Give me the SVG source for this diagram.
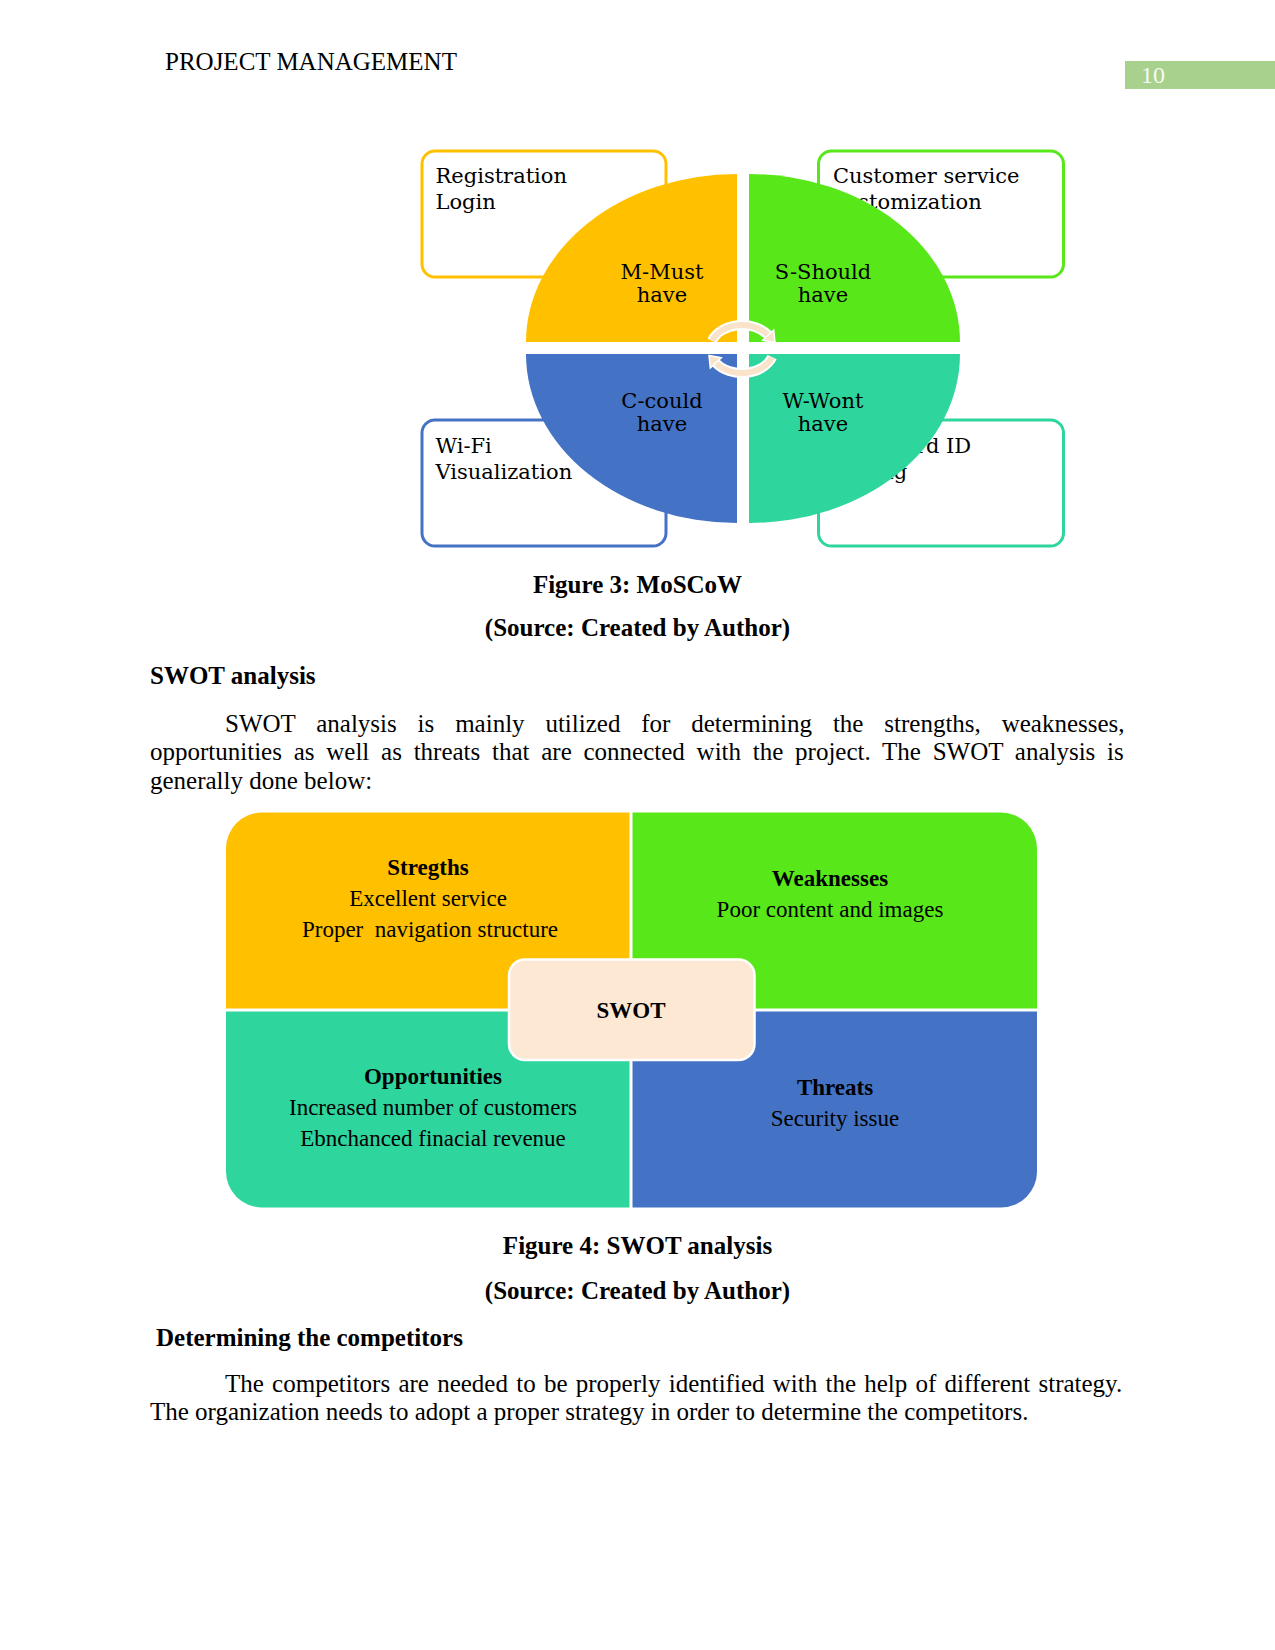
<svg xmlns="http://www.w3.org/2000/svg" width="1275" height="1650" viewBox="0 0 1275 1650">
<style>
.doc{font-family:"Liberation Serif","Times New Roman",serif;font-size:25px;fill:#000}
.b{font-weight:bold}
.mid{text-anchor:middle}
.box{font-family:"DejaVu Serif",serif;font-size:21px;fill:#000}
.ql{font-family:"DejaVu Serif",serif;font-size:21px;fill:#000;text-anchor:middle}
.sw{font-family:"Liberation Serif","Times New Roman",serif;font-size:23px;fill:#000;text-anchor:middle}
.frame{fill:#fff;stroke-width:3}
.arcw{fill:none;stroke:#fff;stroke-width:10}
.arcc{fill:none;stroke:#F9E3CB;stroke-width:6}
</style>
<rect width="1275" height="1650" fill="#fff"/>
<g id="header">
<text class="doc" x="165" y="69.5">PROJECT MANAGEMENT</text>
<rect x="1125" y="61" width="150" height="28" fill="#A9D18E"/>
<text x="1141" y="83" font-family="Liberation Serif, serif" font-size="24" fill="#F6FAF2">10</text>
</g>
<g id="box-must">
<rect class="frame" x="422" y="151" width="244" height="126" rx="13" stroke="#FFC000"/>
<text class="box" x="435.5" y="183">Registration</text>
<text class="box" x="435.5" y="208.5">Login</text>
</g>
<g id="box-should">
<rect class="frame" x="818.5" y="151" width="245" height="126" rx="13" stroke="#58E81A"/>
<text class="box" x="833" y="183">Customer service</text>
<text class="box" x="833" y="208.5">customization</text>
</g>
<g id="box-could">
<rect class="frame" x="422" y="420" width="244" height="126" rx="13" stroke="#4472C4"/>
<text class="box" x="435.5" y="453">Wi-Fi</text>
<text class="box" x="435.5" y="478.5">Visualization</text>
</g>
<g id="box-wont">
<rect class="frame" x="818.5" y="420" width="245" height="126" rx="13" stroke="#2ED69E"/>
<text class="box" x="838" y="453">Password ID</text>
<text class="box" x="838" y="478.5">Billing</text>
</g>
<g id="q-must">
<path d="M737,342 L526,342 A211,168 0 0 1 737,174 Z" fill="#FFC000"/>
<text class="ql" x="662" y="279">M-Must</text>
<text class="ql" x="662" y="301.5">have</text>
</g>
<g id="q-should">
<path d="M749,342 L749,174 A211,168 0 0 1 960,342 Z" fill="#58E81A"/>
<text class="ql" x="823" y="279">S-Should</text>
<text class="ql" x="823" y="301.5">have</text>
</g>
<g id="q-could">
<path d="M737,354 L737,523 A211,169 0 0 1 526,354 Z" fill="#4472C4"/>
<text class="ql" x="662" y="408">C-could</text>
<text class="ql" x="662" y="430.5">have</text>
</g>
<g id="q-wont">
<path d="M749,354 L960,354 A211,169 0 0 1 749,523 Z" fill="#2ED69E"/>
<text class="ql" x="823" y="408">W-Wont</text>
<text class="ql" x="823" y="430.5">have</text>
</g>
<g id="connectors">
<path class="arcw" d="M712,340.8 A32,24 0 0 1 768.2,335.2"/>
<path class="arcc" d="M712,340.8 A32,24 0 0 1 768.2,335.2"/>
<polygon points="775,342.5 773.7,330.1 762.7,340.3" fill="#F9E3CB" stroke="#fff" stroke-width="1.5"/>
<path class="arcw" d="M772.1,357.2 A32,24 0 0 1 715.8,362.8"/>
<path class="arcc" d="M772.1,357.2 A32,24 0 0 1 715.8,362.8"/>
<polygon points="709,355.5 710.3,367.9 721.3,357.7" fill="#F9E3CB" stroke="#fff" stroke-width="1.5"/>
</g>
<text class="doc b mid" x="637.5" y="592.5">Figure 3: MoSCoW</text>
<text class="doc b mid" x="637.5" y="636">(Source: Created by Author)</text>
<text class="doc b" x="150" y="683.5">SWOT analysis</text>
<text class="doc" x="225" y="731.5" word-spacing="14.6">SWOT analysis is mainly utilized for determining the strengths, weaknesses,</text>
<text class="doc" x="150" y="760" word-spacing="5.5">opportunities as well as threats that are connected with the project. The SWOT analysis is</text>
<text class="doc" x="150" y="788.5">generally done below:</text>
<g id="swot-s">
<path d="M226,1008.5 L226,848.5 A36,36 0 0 1 262,812.5 L629.5,812.5 L629.5,1008.5 Z" fill="#FFC000"/>
<text class="sw b" x="428" y="874.5">Stregths</text>
<text class="sw" x="428" y="906">Excellent service</text>
<text class="sw" x="430" y="936.5" xml:space="preserve">Proper  navigation structure</text>
</g>
<g id="swot-w">
<path d="M632.5,812.5 L1001,812.5 A36,36 0 0 1 1037,848.5 L1037,1008.5 L632.5,1008.5 Z" fill="#58E81A"/>
<text class="sw b" x="830" y="886">Weaknesses</text>
<text class="sw" x="830" y="916.5">Poor content and images</text>
</g>
<g id="swot-o">
<path d="M226,1011.5 L629.5,1011.5 L629.5,1207.5 L262,1207.5 A36,36 0 0 1 226,1171.5 Z" fill="#2ED69E"/>
<text class="sw b" x="433" y="1084">Opportunities</text>
<text class="sw" x="433" y="1115">Increased number of customers</text>
<text class="sw" x="433" y="1146">Ebnchanced finacial revenue</text>
</g>
<g id="swot-t">
<path d="M632.5,1011.5 L1037,1011.5 L1037,1171.5 A36,36 0 0 1 1001,1207.5 L632.5,1207.5 Z" fill="#4472C4"/>
<text class="sw b" x="835" y="1095">Threats</text>
<text class="sw" x="835" y="1126">Security issue</text>
</g>
<g id="swot-center">
<rect x="509" y="959.5" width="245.5" height="100.5" rx="16" fill="#FDE9D3" stroke="#fff" stroke-width="2.5"/>
<text class="sw b" x="631" y="1017.5">SWOT</text>
</g>
<text class="doc b mid" x="637.5" y="1254">Figure 4: SWOT analysis</text>
<text class="doc b mid" x="637.5" y="1298.5">(Source: Created by Author)</text>
<text class="doc b" x="156" y="1345.5">Determining the competitors</text>
<text class="doc" x="225" y="1392" word-spacing="2">The competitors are needed to be properly identified with the help of different strategy.</text>
<text class="doc" x="150" y="1420">The organization needs to adopt a proper strategy in order to determine the competitors.</text>
</svg>
